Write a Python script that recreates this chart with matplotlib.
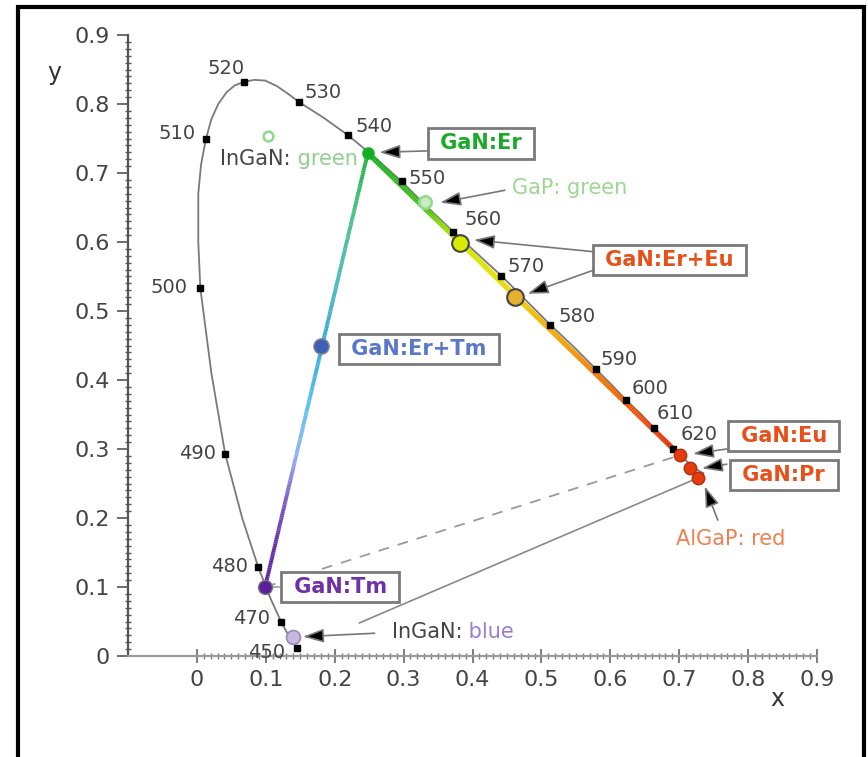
import numpy as np
import matplotlib
matplotlib.use("Agg")
import matplotlib.pyplot as plt
from matplotlib.collections import LineCollection
from matplotlib.colors import LinearSegmentedColormap
from matplotlib.patches import Rectangle

plt.rcParams["font.family"] = ["DejaVu Sans"]

# spectral locus (CIE 1931)
locus_nm = [450, 455, 460, 465, 470, 475, 480, 485, 490, 495, 500, 503, 506, 508,
            510, 512, 514, 516, 518, 520, 522, 524, 526, 528, 530, 535, 540, 545,
            550, 555, 560, 565, 570, 575, 580, 585, 590, 595, 600, 605, 610, 615,
            620, 630, 640, 660, 700]
locus_x = [0.146, 0.141, 0.135, 0.129, 0.122, 0.107, 0.089, 0.066, 0.041, 0.021,
           0.005, 0.002, 0.002, 0.006, 0.013, 0.021, 0.031, 0.043, 0.055, 0.068,
           0.083, 0.099, 0.116, 0.132, 0.148, 0.184, 0.219, 0.259, 0.297, 0.334,
           0.372, 0.407, 0.442, 0.477, 0.513, 0.546, 0.579, 0.602, 0.623, 0.645,
           0.664, 0.678, 0.691, 0.708, 0.718, 0.729, 0.735]
locus_y = [0.012, 0.019, 0.027, 0.037, 0.050, 0.083, 0.129, 0.199, 0.293, 0.410,
           0.533, 0.600, 0.670, 0.712, 0.749, 0.778, 0.800, 0.817, 0.827, 0.832,
           0.835, 0.834, 0.826, 0.815, 0.803, 0.780, 0.755, 0.722, 0.688, 0.651,
           0.615, 0.583, 0.551, 0.516, 0.480, 0.449, 0.416, 0.393, 0.371, 0.350,
           0.330, 0.314, 0.300, 0.285, 0.276, 0.268, 0.265]
marked_nm = [450, 470, 480, 490, 500, 510, 520, 530, 540, 550, 560, 570, 580,
             590, 600, 610, 620]

# emitters
gan_er = (0.248, 0.729)
gan_tm = (0.099, 0.100)
gan_eu = (0.701, 0.291)
gan_pr = (0.716, 0.272)
algap_red = (0.727, 0.258)
gan_er_tm = (0.180, 0.449)
gan_er_eu_x = [0.382, 0.4615]
gan_er_eu_y = [0.599, 0.520]
ingan_green = (0.103, 0.754)
gap_green = (0.331, 0.658)
ingan_blue = (0.139, 0.028)
# grey line from AlGaP red towards InGaN blue (ends at the label)
grey_x = [0.727, 0.236]
grey_y = [0.258, 0.048]

# wavelength label offsets in pixels (dx, dy)
lab_off = {450: (-31, -5), 470: (-29, 3), 480: (-29, 0), 490: (-28, 0),
           500: (-31, 1), 510: (-29, 6), 520: (-18, 13), 530: (24, 9),
           540: (26, 9), 550: (26, 3), 560: (30, 12), 570: (25, 9),
           580: (27, 8), 590: (23, 9), 600: (24, 12), 610: (21, 15),
           620: (26, 14)}

fig = plt.figure(figsize=(8.68, 7.57), dpi=100)
ax = fig.add_axes([128 / 868, 101 / 757, 689 / 868, 621 / 757])
ax.set_xlim(-0.1, 0.9)
ax.set_ylim(0, 0.9)

for s in ["top", "right"]:
    ax.spines[s].set_visible(False)
ax.spines["left"].set_color("#555555")
ax.spines["bottom"].set_color("#9a9a9a")
ax.spines["left"].set_linewidth(1.6)
ax.spines["bottom"].set_linewidth(1.6)

xt = np.round(np.arange(0, 0.91, 0.1), 1)
ax.set_xticks(xt)
ax.set_xticklabels(["0"] + [f"{v:.1f}" for v in xt[1:]])
ax.set_xticks(np.round(np.arange(0, 0.901, 0.01), 2), minor=True)
yt = np.round(np.arange(0, 0.91, 0.1), 1)
ax.set_yticks(yt)
ax.set_yticklabels(["0"] + [f"{v:.1f}" for v in yt[1:]])
ax.set_yticks(np.round(np.arange(0, 0.901, 0.01), 2), minor=True)
ax.tick_params(axis="y", which="major", direction="out", length=8, width=1.2,
               color="#555555", labelsize=16, labelcolor="#444444", pad=5)
ax.tick_params(axis="y", which="minor", direction="inout", length=5, width=1,
               color="#555555")
ax.tick_params(axis="x", which="major", direction="inout", length=10, width=1.2,
               color="#666666", labelsize=16, labelcolor="#444444", pad=5)
ax.tick_params(axis="x", which="minor", direction="inout", length=5, width=1,
               color="#777777")

ax.text(-0.207, 0.845, "y", fontsize=17, color="#333333", ha="center", va="center",
        clip_on=False)
ax.text(0.842, -0.062, "x", fontsize=17, color="#333333", ha="center", va="center",
        clip_on=False)

# spectral locus
ax.plot(locus_x, locus_y, color="#7a7a7a", lw=1.3, zorder=2, clip_on=False,
        solid_joinstyle="round")
mx = [locus_x[locus_nm.index(n)] for n in marked_nm]
my = [locus_y[locus_nm.index(n)] for n in marked_nm]
ax.plot(mx, my, "s", color="black", ms=4, zorder=6, clip_on=False)
for n, x, y in zip(marked_nm, mx, my):
    dx, dy = lab_off[n]
    ax.annotate(str(n), (x, y), xytext=(dx * 0.72, dy * 0.72),
                textcoords="offset points", ha="center", va="center",
                fontsize=14, color="#444444", zorder=7)

# grey and dashed lines
ax.plot(grey_x, grey_y, color="#8a8a8a", lw=1.2, zorder=2)
ax.plot([gan_tm[0], gan_eu[0]], [gan_tm[1], gan_eu[1]], color="#9a9a9a", lw=1.3,
        ls=(0, (6, 5)), zorder=2)


def gradient_line(p0, p1, stops, lw):
    cmap = LinearSegmentedColormap.from_list("g", stops)
    t = np.linspace(0, 1, 201)
    xs = p0[0] + (p1[0] - p0[0]) * t
    ys = p0[1] + (p1[1] - p0[1]) * t
    pts = np.column_stack([xs, ys]).reshape(-1, 1, 2)
    segs = np.concatenate([pts[:-1], pts[1:]], axis=1)
    lc = LineCollection(segs, colors=cmap((t[:-1] + t[1:]) / 2), linewidths=lw,
                        zorder=4, capstyle="butt")
    ax.add_collection(lc)


gradient_line(gan_er, gan_eu,
              [(0, "#14ae24"), (0.18, "#40c010"), (0.28, "#c0e800"),
               (0.40, "#e6e000"), (0.52, "#f0c000"), (0.65, "#f09800"),
               (0.78, "#f06a00"), (0.90, "#e84810"), (1.0, "#e03010")], 3.8)
gradient_line(gan_er, gan_tm,
              [(0, "#1aae3a"), (0.15, "#48c088"), (0.3, "#48b8b8"),
               (0.45, "#30a8d8"), (0.6, "#60c0f0"), (0.7, "#90b0f0"),
               (0.8, "#7858c8"), (0.9, "#6030a8"), (1.0, "#5a1f9a")], 2.8)

# emitter points
ax.plot(*gan_er, "o", color="#12b020", ms=8, zorder=8)
ax.plot(*gan_tm, "o", color="#5a1f9a", mec="#777777", ms=10, zorder=8)
ax.plot(*gan_er_tm, "o", color="#4060b8", mec="#888888", ms=11, zorder=8)
ax.plot(gan_er_eu_x[0], gan_er_eu_y[0], "o", color="#d8ec00", mec="#444444",
        mew=1.5, ms=12, zorder=8)
ax.plot(gan_er_eu_x[1], gan_er_eu_y[1], "o", color="#e8b030", mec="#444444",
        mew=1.5, ms=12, zorder=8)
for p in (gan_eu, gan_pr, algap_red):
    ax.plot(*p, "o", color="#e43c0c", mec="#b03010", ms=9, zorder=8)
ax.plot(*ingan_green, "o", mfc="none", mec="#90d890", mew=1.8, ms=7, zorder=8)
ax.plot(*gap_green, "o", mfc="#c8ecc0", mec="#90d890", mew=1.8, ms=9, zorder=8)
ax.plot(*ingan_blue, "o", mfc="#c8b8e0", mec="#9a88c0", mew=1.2, ms=10, zorder=8,
        clip_on=False)

box = dict(boxstyle="square,pad=0.25", fc="white", ec="#7a7a7a", lw=2)


def boxed(x, y, s, c):
    ax.text(x, y, " " + s + " ", fontsize=15, fontweight="bold", color=c,
            ha="center", va="center", bbox=box, zorder=9)


boxed(0.412, 0.743, "GaN:Er", "#1aaa2a")
boxed(0.686, 0.574, "GaN:Er+Eu", "#e8501a")
boxed(0.322, 0.445, "GaN:Er+Tm", "#5a78c8")
boxed(0.208, 0.100, "GaN:Tm", "#7030a8")
boxed(0.852, 0.319, "GaN:Eu", "#e8501a")
boxed(0.852, 0.262, "GaN:Pr", "#e8501a")

ax.text(0.541, 0.678, "GaP: green", fontsize=15, color="#9cd890", ha="center",
        va="center", zorder=9)
ax.text(0.775, 0.170, "AlGaP: red", fontsize=15, color="#f08050", ha="center",
        va="center", zorder=9)
ax.text(0.136, 0.720, "InGaN:", fontsize=15, color="#444444", ha="right",
        va="center", zorder=9)
ax.text(0.136, 0.720, " green", fontsize=15, color="#8fd08f", ha="left",
        va="center", zorder=9)
ax.text(0.385, 0.035, "InGaN:", fontsize=15, color="#444444", ha="right",
        va="center", zorder=9, bbox=dict(fc="white", ec="none", pad=1))
ax.text(0.385, 0.035, " blue", fontsize=15, color="#9a80c8", ha="left",
        va="center", zorder=9)

arrow = dict(arrowstyle="-|>,head_length=0.9,head_width=0.3", fc="black",
             ec="#777777", lw=1.2, mutation_scale=14, shrinkA=0, shrinkB=0)
arrows = [((0.334, 0.732), (0.265, 0.730)),
          ((0.447, 0.675), (0.353, 0.657)),
          ((0.575, 0.586), (0.402, 0.603)),
          ((0.575, 0.559), (0.480, 0.525)),
          ((0.769, 0.300), (0.720, 0.293)),
          ((0.769, 0.278), (0.733, 0.272)),
          ((0.756, 0.197), (0.737, 0.246)),
          ((0.258, 0.033), (0.154, 0.028))]
for tail, tip in arrows:
    ax.annotate("", xy=tip, xytext=tail, arrowprops=arrow, zorder=9)
ax.annotate("", xy=gan_tm, xytext=(0.124, 0.100),
            arrowprops=dict(arrowstyle="-", color="#888888", lw=1), zorder=7)

# outer frame
fig.add_artist(Rectangle((18 / 868, -0.05), 846 / 868, 1.05 - 7 / 757,
                         transform=fig.transFigure, fill=False, ec="black",
                         lw=3))

fig.savefig("out.png", dpi=100)
